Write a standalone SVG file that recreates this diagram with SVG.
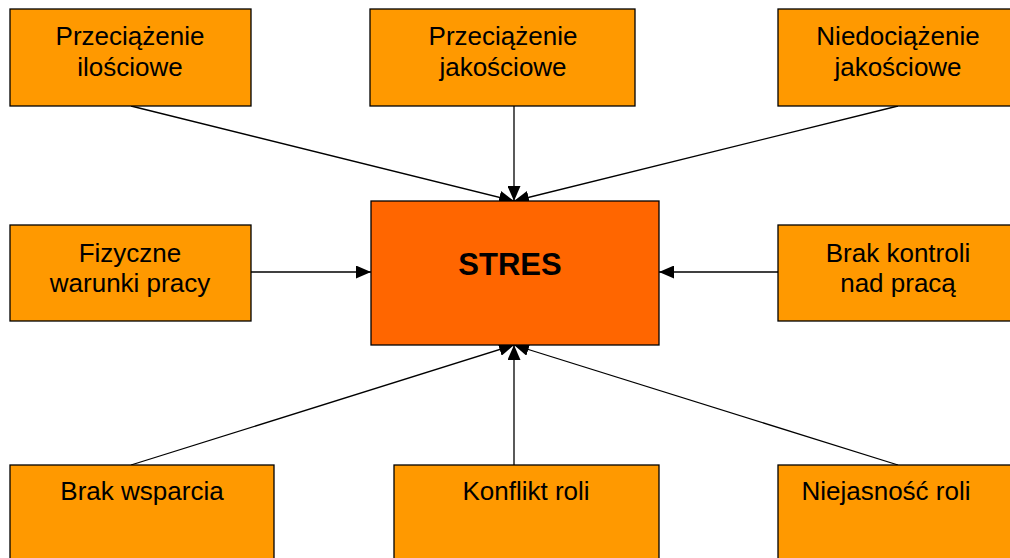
<svg xmlns="http://www.w3.org/2000/svg" width="1010" height="558" viewBox="0 0 1010 558">
<style>
.box{fill:#FF9900;stroke:#000;stroke-width:1.3}
.core{fill:#FF6600;stroke:#000;stroke-width:1.3}
.t{font-family:"Liberation Sans",Arial,sans-serif;font-size:26px;fill:#000;text-anchor:middle}
.tb{font-family:"Liberation Sans",Arial,sans-serif;font-size:31px;font-weight:bold;fill:#000;text-anchor:middle}
.c{stroke:#000;stroke-width:1.3;fill:none;marker-end:url(#ah)}
</style>
<defs>
<marker id="ah" markerUnits="userSpaceOnUse" markerWidth="15" markerHeight="13" refX="15" refY="6.5" orient="auto">
<path d="M0,0 L15,6.5 L0,13 z" fill="#000"/>
</marker>
</defs>
<rect width="1010" height="558" fill="#fff"/>
<g id="connectors">
<line class="c" x1="131" y1="106" x2="514" y2="201"/>
<line class="c" x1="514" y1="106" x2="514" y2="201"/>
<line class="c" x1="898" y1="106" x2="514" y2="201"/>
<line class="c" x1="251" y1="272" x2="371" y2="272"/>
<line class="c" x1="778" y1="272" x2="659" y2="272"/>
<line class="c" x1="131" y1="465" x2="514" y2="345"/>
<line class="c" x1="514" y1="465" x2="514" y2="345"/>
<line class="c" x1="898" y1="465" x2="514" y2="345"/>
</g>
<g id="n1"><rect class="box" x="10" y="9" width="241" height="97"/><text class="t" x="130" y="45">Przeciążenie</text><text class="t" x="130" y="76">ilościowe</text></g>
<g id="n2"><rect class="box" x="370" y="9" width="265" height="97"/><text class="t" x="503" y="45">Przeciążenie</text><text class="t" x="503" y="76">jakościowe</text></g>
<g id="n3"><rect class="box" x="778" y="9" width="241" height="97"/><text class="t" x="898" y="45">Niedociążenie</text><text class="t" x="898" y="76">jakościowe</text></g>
<g id="n4"><rect class="box" x="10" y="225" width="241" height="96"/><text class="t" x="130" y="262">Fizyczne</text><text class="t" x="130" y="292">warunki pracy</text></g>
<g id="stres"><rect class="core" x="371" y="201" width="288" height="144"/><text class="tb" x="510" y="275">STRES</text></g>
<g id="n5"><rect class="box" x="778" y="225" width="241" height="96"/><text class="t" x="898" y="262">Brak kontroli</text><text class="t" x="898" y="292">nad pracą</text></g>
<g id="n6"><rect class="box" x="10" y="465" width="264" height="110"/><text class="t" x="142" y="500">Brak wsparcia</text></g>
<g id="n7"><rect class="box" x="394" y="465" width="265" height="110"/><text class="t" x="526" y="500">Konflikt roli</text></g>
<g id="n8"><rect class="box" x="778" y="465" width="264" height="110"/><text class="t" x="886" y="500">Niejasność roli</text></g>
</svg>
